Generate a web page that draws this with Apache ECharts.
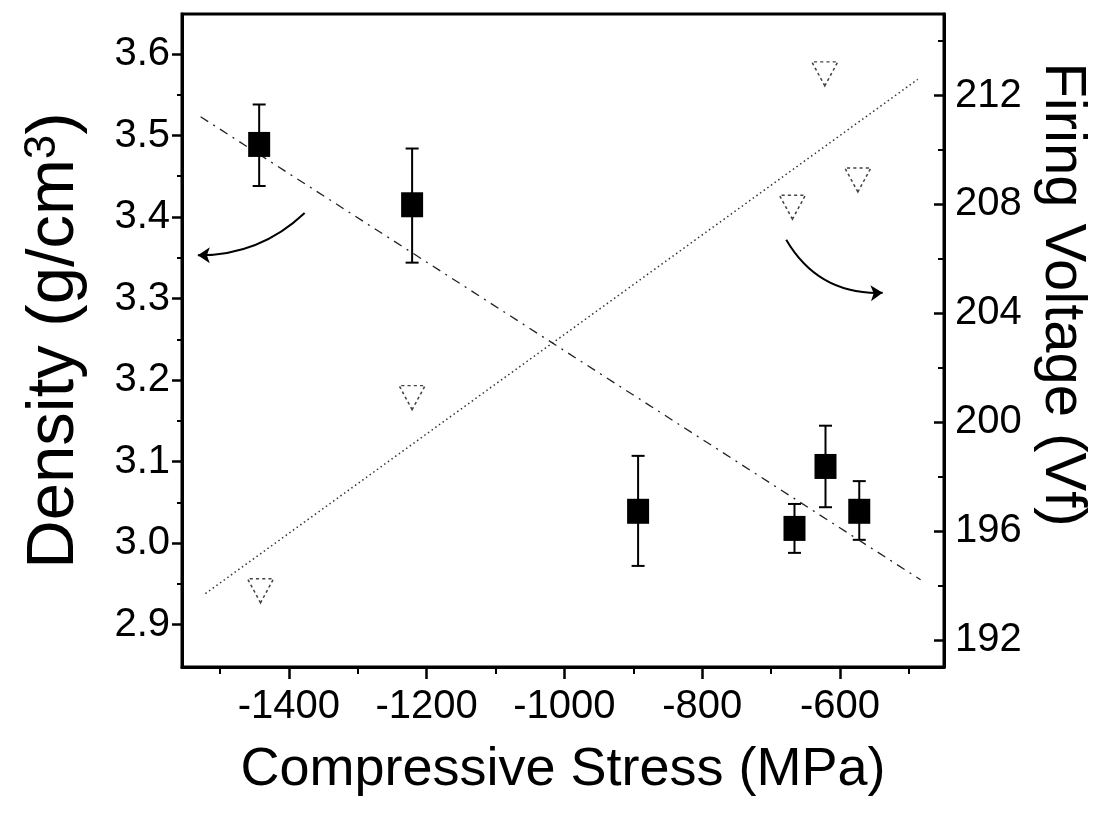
<!DOCTYPE html>
<html>
<head>
<meta charset="utf-8">
<script src="https://cdn.jsdelivr.net/npm/echarts@6/dist/echarts.min.js"></script>
<style>
html,body{margin:0;padding:0;background:#fff;}
#chart{width:1099px;height:815px;}
</style>
</head>
<body>
<div id="chart"></div>
<script>
// ---- data ----
const stressDensity   = [-1443, -1221, -893, -666, -621, -572];
const density         = [3.489, 3.415, 3.039, 3.018, 3.094, 3.039];
const densityErrLow   = [3.438, 3.344, 2.972, 2.988, 3.044, 3.004];
const densityErrHigh  = [3.538, 3.484, 3.107, 3.048, 3.144, 3.076];

const stressVoltage   = [-1441, -1221, -669, -622, -574];
const firingVoltage   = [193.8, 200.9, 207.9, 212.8, 208.9];

const densityFitX     = [-1528, -483];
const densityFitY     = [3.523, 2.955];
const voltageFitX     = [-1521, -487];
const voltageFitY     = [193.7, 212.6];

// annotation arrows (in stress / density units)
const arrowLeft  = [[-1377, 3.405], [-1532, 3.353]];
const arrowRight = [[-678, 3.372], [-538, 3.307]];

const xTicks            = [-1400, -1200, -1000, -800, -600];
const xMinorTicks       = [-1500, -1300, -1100, -900, -700, -500];
const densityTicks      = [2.9, 3.0, 3.1, 3.2, 3.3, 3.4, 3.5, 3.6];
const densityMinorTicks = [2.95, 3.05, 3.15, 3.25, 3.35, 3.45, 3.55];
const voltageTicks      = [192, 196, 200, 204, 208, 212];
const voltageMinorTicks = [194, 198, 202, 206, 210, 214];

const xMin = -1555, xMax = -449;
const dMin = 2.848, dMax = 3.649;
const vMin = 191, vMax = 215;

// ---- chart ----
const FONT = 'Liberation Sans, Arial, sans-serif';
const NARROW = '"Liberation Sans Narrow", "Arial Narrow", "Liberation Sans", sans-serif';
const chart = echarts.init(document.getElementById('chart'), null, {renderer: 'canvas'});

const errData = stressDensity.map((x, i) => [x, densityErrLow[i], densityErrHigh[i]]);

function renderErr(params, api) {
  const x = api.value(0), lo = api.value(1), hi = api.value(2);
  const pLo = api.coord([x, lo]);
  const pHi = api.coord([x, hi]);
  const half = 6.5;
  const st = {stroke: '#000', lineWidth: 2};
  return {
    type: 'group',
    children: [
      {type: 'line', shape: {x1: pLo[0], y1: pLo[1], x2: pHi[0], y2: pHi[1]}, style: st},
      {type: 'line', shape: {x1: pLo[0] - half, y1: pLo[1], x2: pLo[0] + half, y2: pLo[1]}, style: st},
      {type: 'line', shape: {x1: pHi[0] - half, y1: pHi[1], x2: pHi[0] + half, y2: pHi[1]}, style: st}
    ]
  };
}

const labelStyle = {fontFamily: NARROW, fontSize: 40, color: '#000'};

const option = {
  backgroundColor: '#fff',
  animation: false,
  grid: {left: 182, right: 155, top: 14, bottom: 148, show: true, borderColor: '#000', borderWidth: 3, backgroundColor: 'transparent'},
  xAxis: [
    {
      type: 'value', min: xMin, max: xMax, position: 'bottom',
      name: 'Compressive Stress (MPa)', nameLocation: 'middle', nameGap: 76,
      nameTextStyle: {fontFamily: FONT, fontSize: 54, color: '#000'},
      axisLine: {show: true, lineStyle: {color: '#000', width: 3}},
      axisTick: {show: true, inside: false, length: 12, lineStyle: {color: '#000', width: 2.5}, customValues: xTicks},
      axisLabel: Object.assign({show: true, margin: 20, customValues: xTicks, formatter: v => String(v)}, labelStyle),
      splitLine: {show: false}
    },
    {
      type: 'value', min: xMin, max: xMax, position: 'bottom',
      axisLine: {show: false},
      axisTick: {show: true, inside: false, length: 7, lineStyle: {color: '#000', width: 2}, customValues: xMinorTicks},
      axisLabel: {show: false},
      splitLine: {show: false}
    }
  ],
  yAxis: [
    {
      type: 'value', min: dMin, max: dMax, position: 'left',
      name: 'Density (g/cm{sup|3})', nameLocation: 'middle', nameGap: 94,
      nameTextStyle: {fontFamily: FONT, fontSize: 67, color: '#000',
        rich: {sup: {fontFamily: FONT, fontSize: 44, color: '#000', verticalAlign: 'top'}}},
      axisLine: {show: true, lineStyle: {color: '#000', width: 3}},
      axisTick: {show: true, inside: false, length: 10, lineStyle: {color: '#000', width: 2.5}, customValues: densityTicks},
      axisLabel: Object.assign({show: true, margin: 12, customValues: densityTicks,
        formatter: v => Number(v).toFixed(1)}, labelStyle),
      splitLine: {show: false}
    },
    {
      type: 'value', min: vMin, max: vMax, position: 'right',
      name: 'Firing Voltage (Vf)', nameLocation: 'middle', nameGap: 88, nameRotate: -90,
      nameTextStyle: {fontFamily: FONT, fontSize: 58, color: '#000', padding: [0, 92, 0, 0]},
      axisLine: {show: true, lineStyle: {color: '#000', width: 3}},
      axisTick: {show: true, inside: true, length: 10, lineStyle: {color: '#000', width: 2.5}, customValues: voltageTicks},
      axisLabel: Object.assign({show: true, margin: 11, customValues: voltageTicks}, labelStyle),
      splitLine: {show: false}
    },
    {
      type: 'value', min: dMin, max: dMax, position: 'left',
      axisLine: {show: false},
      axisTick: {show: true, inside: false, length: 5, lineStyle: {color: '#000', width: 2}, customValues: densityMinorTicks},
      axisLabel: {show: false},
      splitLine: {show: false}
    },
    {
      type: 'value', min: vMin, max: vMax, position: 'right',
      axisLine: {show: false},
      axisTick: {show: true, inside: true, length: 6, lineStyle: {color: '#000', width: 2}, customValues: voltageMinorTicks},
      axisLabel: {show: false},
      splitLine: {show: false}
    }
  ],
  series: [
    {
      name: 'Density fit', type: 'line', xAxisIndex: 0, yAxisIndex: 0,
      data: densityFitX.map((x, i) => [x, densityFitY[i]]),
      showSymbol: false, symbol: 'none',
      lineStyle: {color: '#222', width: 1.3, type: [9, 6, 2, 6]}
    },
    {
      name: 'Voltage fit', type: 'line', xAxisIndex: 0, yAxisIndex: 1,
      data: voltageFitX.map((x, i) => [x, voltageFitY[i]]),
      showSymbol: false, symbol: 'none',
      lineStyle: {color: '#333', width: 1.5, type: [1.5, 3]}
    },
    {
      name: 'Density error', type: 'custom', xAxisIndex: 0, yAxisIndex: 0,
      data: errData, renderItem: renderErr,
      encode: {x: 0, y: [1, 2]}, z: 3
    },
    {
      name: 'Density', type: 'scatter', xAxisIndex: 0, yAxisIndex: 0,
      data: stressDensity.map((x, i) => [x, density[i]]),
      symbol: 'rect', symbolSize: [22, 25],
      itemStyle: {color: '#000', opacity: 1}, z: 4
    },
    {
      name: 'Firing Voltage', type: 'scatter', xAxisIndex: 0, yAxisIndex: 1,
      data: stressVoltage.map((x, i) => [x, firingVoltage[i]]),
      symbol: 'triangle', symbolRotate: 180, symbolSize: [26, 24],
      itemStyle: {color: 'rgba(255,255,255,0)', borderColor: '#444', borderWidth: 1.5, borderType: [3, 3], opacity: 1}, z: 4
    },
    {
      name: 'Arrows', type: 'lines', coordinateSystem: 'cartesian2d', xAxisIndex: 0, yAxisIndex: 0,
      symbol: ['none', 'arrow'], symbolSize: 12,
      lineStyle: {color: '#000', width: 2, opacity: 1},
      data: [
        {coords: arrowLeft, lineStyle: {curveness: 0.2}},
        {coords: arrowRight, lineStyle: {curveness: -0.3}}
      ],
      z: 5
    }
  ]
};
chart.setOption(option);
</script>
</body>
</html>
